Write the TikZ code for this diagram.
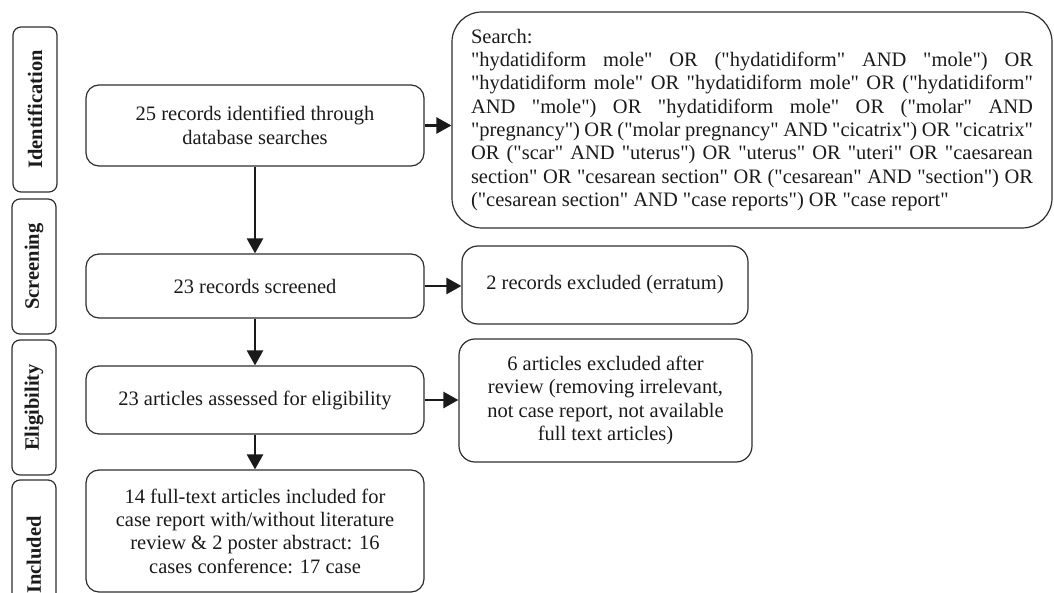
\documentclass[tikz,border=0pt]{standalone}
\usepackage{fontspec}
\setmainfont{Liberation Serif}
\newfontfamily\figfont{Liberation Serif}
\usepackage{tikz}
\usetikzlibrary{arrows.meta,positioning}
\definecolor{edge}{HTML}{2E2E2E}
\definecolor{ink}{HTML}{1A1A1A}
\tikzset{
  stage/.style={draw=edge, line width=1.2pt, rounded corners=8pt, minimum height=44pt,
    inner sep=0pt, rotate=90, font=\figfont\fontsize{20.5}{23.3}\selectfont\bfseries},
  box/.style={draw=edge, line width=1.2pt, rounded corners=13pt, align=center, inner sep=0pt,
    minimum width=338pt, font=\figfont\fontsize{20.5}{23.3}\selectfont},
  outbox/.style={box, rounded corners=16pt},
  flow/.style={draw=ink, line width=2.6pt, -{Triangle[length=15pt,width=16pt]}},
  every node/.style={text=ink}
}
\begin{document}
\begin{tikzpicture}[x=1pt, y=-1pt]
  \useasboundingbox (0,0) rectangle (1054,593);
  \clip (0,0) rectangle (1054,593);

  % stages on the left
  \node[stage, minimum width=165pt] (sident) at (35,109.5) {Identification};
  \node[stage, minimum width=135pt] (sscreen) at (34,266.5) {Screening};
  \node[stage, minimum width=135pt] (selig) at (34,407.5) {Eligibility};
  \node[stage, minimum width=150pt] (sincl) at (34,555) {Included};

  % main column
  \node[box, minimum height=81pt] (ident) at (255,125.5)
    {25 records identified through\\database searches};
  \node[box, minimum height=64pt] (screen) at (255,286) {23 records screened};
  \node[box, minimum height=68pt] (elig) at (255,400) {23 articles assessed for eligibility};
  \node[box, minimum height=122pt] (incl) at (255,531)
    {14 full-text articles included for\\case report with/without literature\\
     review \& 2 poster abstract: 16\\cases conference: 17 case};

  % right column
  \node[box, rounded corners=30pt, minimum width=600pt, minimum height=216pt,
    text width=562pt, align=justify] (search) at (752,120)
    {Search:\\
     "hydatidiform mole" OR ("hydatidiform" AND "mole") OR\linebreak
     "hydatidiform mole" OR "hydatidiform mole" OR ("hydatidiform"\linebreak
     AND "mole") OR "hydatidiform mole" OR ("molar" AND\linebreak
     "pregnancy") OR ("molar pregnancy" AND "cicatrix") OR "cicatrix"\linebreak
     OR ("scar" AND "uterus") OR "uterus" OR "uteri" OR "caesarean\linebreak
     section" OR "cesarean section" OR ("cesarean" AND "section") OR\linebreak
     ("cesarean section" AND "case reports") OR "case report"};
  \node[outbox, minimum width=286pt, minimum height=78pt] (errat) at (605,285)
    {2 records excluded (erratum)};
  \node[outbox, minimum width=293pt, minimum height=123pt] (excl) at (605.5,400.5)
    {6 articles excluded after\\review (removing irrelevant,\\not case report, not available\\full text articles)};

  % connectors
  \draw[flow] (ident.east) -- (ident.east -| search.west);
  \draw[flow] (ident) -- (screen);
  \draw[flow] (screen.east) -- (screen.east -| errat.west);
  \draw[flow] (screen) -- (elig);
  \draw[flow] (elig.east) -- (elig.east -| excl.west);
  \draw[flow] (elig) -- (incl);
\end{tikzpicture}
\end{document}
